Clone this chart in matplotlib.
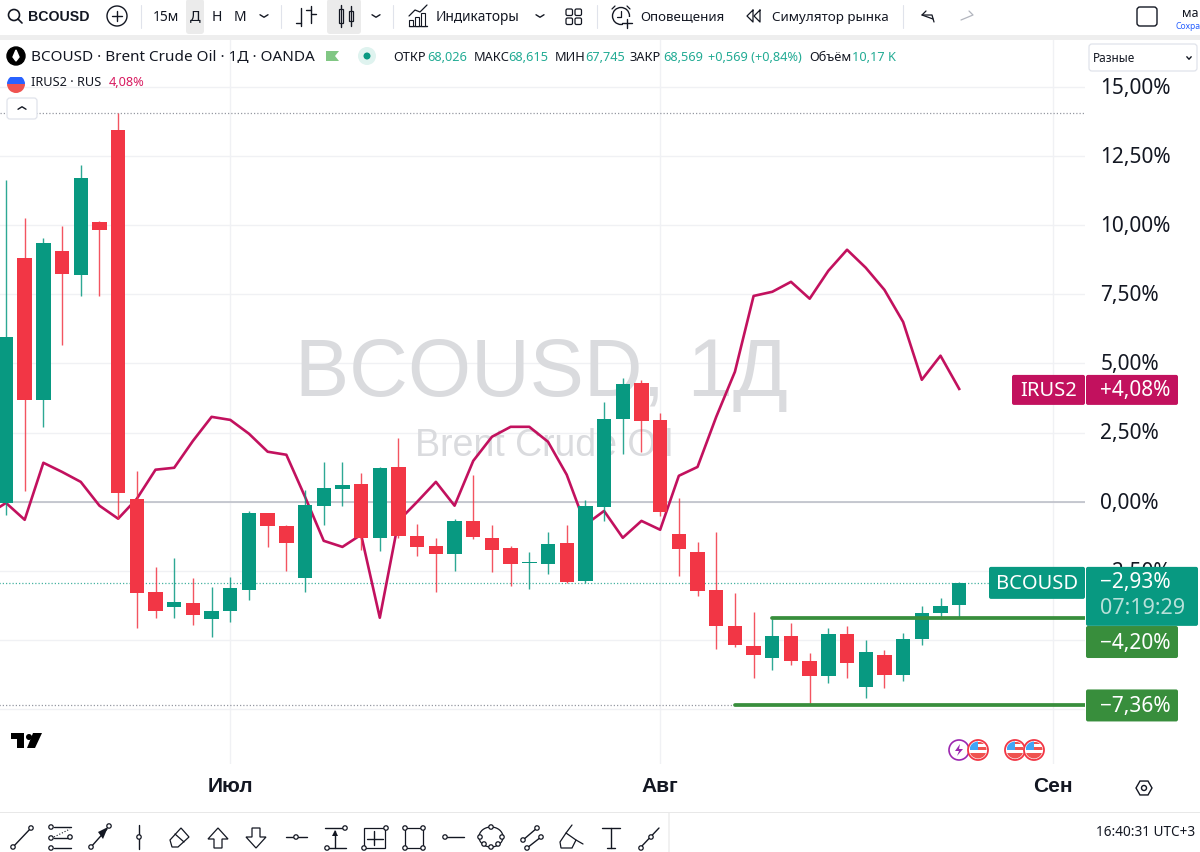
import matplotlib
matplotlib.use("Agg")
import matplotlib.pyplot as plt
from matplotlib.patches import Rectangle, Circle, FancyBboxPatch, Polygon, Wedge, Ellipse
from matplotlib.transforms import ScaledTranslation

plt.rcParams['font.family'] = ['Noto Sans', 'DejaVu Sans']

# ---------- data (percent change) ----------
opens = [-0.04, 8.80, 3.69, 9.07, 8.20, 10.12, 13.44, 0.11, -3.27, -3.81, -3.65, -4.23, -3.94,
         -3.18, -0.42, -0.87, -2.77, -0.14, 0.47, 0.65, -1.32, 1.26, -1.23, -1.59, -1.88, -0.69,
         -1.30, -1.66, -2.22, -2.24, -1.48, -2.85, -0.18, 3.00, 4.30, 2.96, -1.16, -1.81, -3.18,
         -4.48, -5.20, -5.64, -4.84, -5.75, -6.29, -4.77, -6.69, -5.53, -6.25, -4.95, -4.01, -3.72]
closes = [5.96, 3.69, 9.36, 8.24, 11.71, 9.83, 0.33, -3.29, -3.94, -3.61, -4.08, -3.94, -3.11,
          -0.42, -0.87, -1.48, -0.11, 0.51, 0.61, -1.30, 1.23, -1.23, -1.63, -1.88, -0.69, -1.26,
          -1.73, -2.24, -2.20, -1.52, -2.89, -0.14, 3.00, 4.26, 2.93, -0.36, -1.70, -3.22, -4.48,
          -5.17, -5.53, -4.84, -5.75, -6.29, -4.77, -5.82, -5.42, -6.25, -4.95, -4.01, -3.76, -2.93]
highs = [11.64, 10.26, 9.54, 9.97, 12.18, 10.16, 14.06, 1.12, -2.37, -2.02, -2.75, -3.07, -2.71,
         -0.33, -0.40, -0.83, 0.43, 1.45, 1.45, 1.05, 1.26, 2.31, -0.80, -1.30, -0.61, 0.98,
         -0.83, -1.59, -1.81, -1.08, -0.83, 0.07, 3.61, 4.48, 4.41, 3.22, 0.14, -1.45, -1.08,
         -3.29, -3.98, -4.23, -4.37, -5.46, -4.55, -4.48, -4.99, -5.35, -4.73, -3.76, -3.47, -2.89]
lows = [-0.47, 0.40, 2.71, 5.67, 7.44, 7.44, -0.61, -4.55, -4.19, -4.21, -4.45, -4.88, -4.34,
        -3.54, -1.63, -2.49, -3.25, -0.83, -0.14, -1.73, -1.77, -1.30, -1.95, -3.25, -2.49, -1.34,
        -2.53, -3.04, -3.14, -2.60, -2.93, -2.93, -0.69, 1.73, 1.81, -0.51, -2.67, -3.40, -5.31,
        -5.24, -6.36, -6.07, -5.89, -7.34, -6.54, -6.36, -7.08, -6.72, -6.47, -5.17, -4.23, -4.16]
irus_x = list(range(-1, 52))
irus = [-0.47, -0.04, -0.65, 1.41, 1.08, 0.72, -0.14, -0.61, 0.11, 1.16, 1.23, 2.20, 3.07, 2.96,
        2.46, 1.81, 1.70, 0.18, -1.41, -1.63, -1.19, -4.19, -0.69, 0.00, 0.72, -0.14, 1.48, 2.35,
        2.71, 2.71, 2.17, 0.98, -0.83, -0.33, -1.30, -0.69, -1.01, 0.94, 1.26, 3.07, 4.70, 7.44,
        7.59, 7.95, 7.34, 8.35, 9.11, 8.46, 7.66, 6.50, 4.41, 5.28, 4.08]
y_ticks = [15, 12.5, 10, 7.5, 5, 2.5, 0, -2.5, -5, -7.5]
y_labels = ['15,00%', '12,50%', '10,00%', '7,50%', '5,00%', '2,50%', '0,00%', '−2,50%', '', '']
month_pos = [12, 35, 56]
month_labels = ['Июл', 'Авг', 'Сен']
last_close = -2.93
last_irus = 4.08
level_a, level_b = -4.20, -7.36
period_high, period_low = 14.06, -7.36

GREEN, RED, PINK, LVL = '#089981', '#F23645', '#C2115E', '#388E3C'
INK = '#131722'
W, H = 1200, 853
PX_ZERO, PX_PER = 502.8, 27.67
BAR0, BARW = 6.0, 18.69
TOP, BOTTOM, RIGHT = 40, 765, 1085


def yp(v):
    return PX_ZERO - v * PX_PER


fig = plt.figure(figsize=(W / 100, H / 100), dpi=100, facecolor='white')
ax = fig.add_axes([0, 1 - BOTTOM / H, RIGHT / W, (BOTTOM - TOP) / H], zorder=1)
ax.set_xlim(-BAR0 / BARW, (RIGHT - BAR0) / BARW)
ax.set_ylim((PX_ZERO - BOTTOM) / PX_PER, (PX_ZERO - TOP) / PX_PER)
for s in ax.spines.values():
    s.set_visible(False)

ax.set_yticks(y_ticks)
ax.set_yticklabels(y_labels)
ax.yaxis.tick_right()
ax.tick_params(axis='y', length=0, pad=11, labelsize=15, labelcolor=INK)
up = ScaledTranslation(0, 1.6 / 72, fig.dpi_scale_trans)
for lab in ax.get_yticklabels():
    lab.set_transform(lab.get_transform() + up)
ax.set_xticks(month_pos)
ax.set_xticklabels(month_labels, fontweight='bold', fontsize=15, color=INK, family=['Liberation Sans'])
ax.tick_params(axis='x', length=0, pad=9)
ax.grid(True, color='#f0f1f4', lw=1, zorder=0)
ax.set_axisbelow(True)
ax.axhline(0, color='#b8bbc4', lw=1.1, zorder=1)

ax.text(541 / RIGHT, 1 - (375 - TOP) / (BOTTOM - TOP), 'BCOUSD, 1Д', transform=ax.transAxes,
        fontsize=58.5, family=['Liberation Sans'], color='#dadbde', ha='center', va='center', zorder=1.2)
ax.text(415 / RIGHT, 1 - (446 - TOP) / (BOTTOM - TOP), 'Brent Crude Oil', transform=ax.transAxes,
        fontsize=27, family=['Liberation Sans'], color='#dadbde', ha='left', va='center', zorder=1.2)

dot = (0, (1, 1.6))
ax.axhline(period_high, color='#9598a1', lw=0.9, ls=dot, zorder=1.5)
ax.plot([-1, 39], [period_low, period_low], color='#9598a1', lw=0.9, ls=dot, zorder=1.5)
ax.plot([-1, 53], [last_close, last_close], color=GREEN, lw=0.9, ls=dot, alpha=0.75, zorder=1.5)

ax.plot(irus_x, irus, color=PINK, lw=1.9, zorder=2, solid_joinstyle='round')

for i, (o, h, l, c) in enumerate(zip(opens, highs, lows, closes)):
    col = GREEN if c >= o else RED
    ax.vlines(i, l, h, color=col, lw=1.0, alpha=0.85, zorder=3)
    lo, hi = min(o, c), max(o, c)
    ax.bar(i, max(hi - lo, 0.04), bottom=lo, width=0.77, color=col, linewidth=0, zorder=4)

ax.plot([41, 58], [level_a, level_a], color=LVL, lw=2.7, solid_capstyle='round', zorder=5)
ax.plot([39, 58], [level_b, level_b], color=LVL, lw=2.7, solid_capstyle='round', zorder=5)

# ---------- overlay: terminal chrome in pixel coordinates ----------
ov = fig.add_axes([0, 0, 1, 1], zorder=5)
ov.set_xlim(0, W)
ov.set_ylim(H, 0)
ov.axis('off')
ov.patch.set_alpha(0)


def rect(x0, y0, x1, y1, fc, ec='none', lw=0, r=0, z=2):
    if r:
        p = FancyBboxPatch((x0 + r, y0 + r), x1 - x0 - 2 * r, y1 - y0 - 2 * r,
                           boxstyle=f'round,pad={r},rounding_size={r}', fc=fc, ec=ec, lw=lw, zorder=z)
    else:
        p = Rectangle((x0, y0), x1 - x0, y1 - y0, fc=fc, ec=ec, lw=lw, zorder=z)
    ov.add_patch(p)


def line(xs, ys, c=INK, lw=1.0, z=3, **kw):
    ov.plot(xs, ys, color=c, lw=lw, zorder=z, solid_capstyle='round', **kw)


def txt(x, y, s, size=10, c=INK, ha='left', weight='normal', z=4, **kw):
    ov.text(x, y, s, fontsize=size, color=c, ha=ha, va='center', fontweight=weight, zorder=z, **kw)


def circ(x, y, r, fc='none', ec=INK, lw=1.0, z=3):
    ov.add_patch(Circle((x, y), r, fc=fc, ec=ec, lw=lw, zorder=z))


def chevron(x, y, c=INK, s=4, up=False):
    d = -2.5 if up else 2.5
    line([x - s, x, x + s], [y - d / 2, y + d / 2, y - d / 2], c=c, lw=1.0)


# top toolbar
rect(0, 0, W, 36, 'white')
rect(0, 36, W, 41, '#eeeeee')
rect(186, 0, 204, 35, '#ebebeb', r=3)
rect(327, 0, 361, 35, '#ebebeb', r=3)
circ(14, 16, 5.5, lw=1.2)
line([18, 22], [20, 24], lw=1.2)
txt(28, 17, 'BCOUSD', 10.2, weight='bold', family=['Liberation Sans'])
circ(117, 17, 10)
line([112, 122], [17, 17])
line([117, 117], [12, 22])
for sx in (141, 281, 393, 597, 903):
    line([sx, sx], [6, 29], c='#e0e3eb', lw=0.8)
txt(153, 17, '15м', 10)
txt(195, 17, 'Д', 10.5, ha='center')
txt(217, 17, 'Н', 10, ha='center')
txt(240, 17, 'М', 10, ha='center')
chevron(264, 17)
line([301, 301], [9, 27])
line([296, 301], [24, 24])
line([311, 311], [7, 24])
line([311, 316], [15, 15])
line([306, 311], [11, 11])
rect(339, 10, 343, 24, 'white', ec=INK, lw=0.9, z=3)
line([341, 341], [6, 28])
rect(349, 12, 353, 22, 'white', ec=INK, lw=0.9, z=3)
line([351, 351], [7, 27])
chevron(376, 17)
line([409, 427], [27, 27])
for bx, by in ((411, 21), (417, 18), (423, 14)):
    rect(bx - 2, by, bx + 2, 27, 'white', ec=INK, lw=0.8, z=3)
line([409, 415, 420, 427], [17, 11, 13, 6], lw=0.9)
txt(436, 17, 'Индикаторы', 9.9)
chevron(540, 17)
for qx, qy in ((566, 10), (575, 10), (566, 19), (575, 19)):
    rect(qx, qy, qx + 6.5, qy + 6.5, 'white', ec=INK, lw=0.9, r=1.5, z=3)
circ(621, 17, 8.5)
line([621, 621, 617], [12, 18, 18], lw=0.9)
line([612, 615], [10, 7], lw=0.9)
line([630, 627], [10, 7], lw=0.9)
rect(623, 18, 632, 29, 'white', z=3)
line([627, 627], [20, 29], z=4)
line([622, 632], [24, 24], z=4)
txt(640, 17, 'Оповещения', 9.6)
line([753, 747, 753, 753], [11, 17, 23, 11], lw=0.9)
line([760, 754, 760, 760], [11, 17, 23, 11], lw=0.9)
txt(772, 17, 'Симулятор рынка', 9.7)
line([933, 922, 926], [20, 16, 12], lw=0.9)
line([922, 932, 934], [16, 16, 23], lw=0.9)
line([961, 973, 969], [21, 16, 12], c='#b2b5be', lw=0.9)
rect(1137, 8, 1157, 27, 'white', ec=INK, lw=1.0, r=3, z=3)
txt(1182, 13, 'ма', 9)
txt(1175, 26, 'Сохра', 6.2, c='#2962FF')

# legend rows
circ(16, 57, 9, fc='black', ec='black')
ov.add_patch(Polygon([(16, 51), (13, 58), (16, 62), (19, 58)], fc='white', ec='white', zorder=4))
txt(31, 57, 'BCOUSD · Brent Crude Oil · 1Д · OANDA', 11)
ov.add_patch(Polygon([(326, 52), (339, 52), (335, 57), (339, 62), (326, 62)], fc='#81C784', zorder=3))
circ(367, 57, 9, fc='#dff3ef', ec='none', lw=0)
circ(367, 57, 3.5, fc=GREEN, ec='none', lw=0)
LG = '#22AB94'
for x, s, c in ((393, 'ОТКР', INK), (427, '68,026', LG), (474, 'МАКС', INK), (508, '68,615', LG),
                (555, 'МИН', INK), (585, '67,745', LG), (629, 'ЗАКР', INK), (663, '68,569', LG),
                (708, '+0,569 (+0,84%)', LG), (809, 'Объём', INK), (852, '10,17 K', LG)):
    txt(x, 57, s, 9.2, c=c)
ov.add_patch(Wedge((16, 85), 9, 180, 360, fc='#2962FF', zorder=3))
ov.add_patch(Wedge((16, 85), 9, 0, 180, fc='#EF5350', zorder=3))
rect(7, 72, 25, 77.5, 'white', z=3.5)
txt(31, 82, 'IRUS2 · RUS', 9.2)
txt(109, 82, '4,08%', 9.2, c='#D81B60')
rect(7, 99, 37, 120, 'white', ec='#e0e3eb', lw=0.9, r=3, z=3)
chevron(22, 109, s=4, up=True)
rect(1089, 45, 1197, 72, 'white', ec='#e0e3eb', lw=0.9, r=3, z=3)
txt(1093, 58.5, 'Разные', 8.5)
chevron(1189, 59, s=2.2)

# price tags
py = yp(last_close)
rect(989, py - 16, 1085, py + 16, GREEN, r=2)
txt(1037, py, 'BCOUSD', 14.5, c='white', ha='center')
rect(1086, py - 16, 1198, py + 43, GREEN, r=2)
txt(1100, py - 1, '−2,93%', 15, c='white')
txt(1100, py + 25, '07:19:29', 15.5, c='#b7e0d9')
for v, s in ((level_a, '−4,20%'), (level_b, '−7,36%')):
    p = yp(v) + (24 if v == level_a else 0)
    rect(1086, p - 16, 1178, p + 16, LVL, r=2)
    txt(1100, p, s, 15, c='white')
py = yp(last_irus) + 1
rect(1012, py - 15, 1085, py + 15, PINK, r=2)
txt(1049, py, 'IRUS2', 14.5, c='white', ha='center')
rect(1086, py - 15, 1178, py + 15, PINK, r=2)
txt(1100, py, '+4,08%', 15, c='white')

# TradingView mark
ov.add_patch(Polygon([(11, 734), (24, 734), (24, 749), (17, 749), (17, 740), (11, 740)], fc='black', zorder=3))
circ(29, 738, 3, fc='black', ec='black', lw=0)
ov.add_patch(Polygon([(33, 734), (42, 734), (35, 749), (27, 749)], fc='black', zorder=3))

# event icons
circ(959, 751, 10, fc='white', ec='#9C27B0', lw=1.2, z=3)
ov.add_patch(Polygon([(960, 745), (955, 752), (959, 752), (957, 757), (963, 750), (959, 750)],
                     fc='#9C27B0', zorder=3.1))
for k, fx in enumerate((978, 1015, 1034)):
    z = 3.2 + k * 0.1
    ov.add_patch(Circle((fx, 751), 10, fc='white', ec='none', zorder=z))
    clipc = Circle((fx, 751), 8.5, transform=ov.transData)
    for rx0, ry0, rw, rh, col in ((fx - 8.5, 754, 17, 6, '#EF5350'), (fx, 748, 9, 3, '#EF5350'),
                                  (fx - 8.5, 742, 8.5, 9, '#42A5F5'), (fx, 743, 9, 2, '#EF5350')):
        rp = Rectangle((rx0, ry0), rw, rh, fc=col, ec='none', zorder=z + 0.01)
        ov.add_patch(rp)
        rp.set_clip_path(clipc)
    ov.add_patch(Circle((fx, 751), 10, fc='none', ec='#F23645', lw=1.3, zorder=z + 0.05))

# lower band
rect(0, 813, W, 814, '#e8e8e8')
rect(668, 814, 670, H, '#f1f1f1')
hx = [1144 + 8 * a for a in (-1, -0.5, 0.5, 1, 0.5, -0.5)]
hy = [789 + 8 * b for b in (0, -0.87, -0.87, 0, 0.87, 0.87)]
ov.add_patch(Polygon(list(zip(hx, hy)), fc='none', ec=INK, lw=1.0, zorder=3))
circ(1144, 789, 2.5)
txt(1195, 833, '16:40:31 UTC+3', 9.8, ha='right')


# bottom tool icons
def node(x, y):
    circ(x, y, 2.2, fc='white', lw=0.9, z=4)


line([13, 31], [848, 829]); node(13, 848); node(31, 829)
for ly in (828, 839, 849):
    line([54, 71], [ly, ly]); node(51, ly)
line([54, 70], [838, 830], lw=0.8, ls=':'); node(70, 838)
line([91, 107], [848, 830]); node(91, 848); node(109, 827)
ov.add_patch(Polygon([(108, 828), (98, 833), (103, 840)], fc=INK, zorder=3))
line([139, 139], [826, 850]); node(139, 838)
ov.add_patch(Polygon([(170, 841), (181, 829), (189, 838), (178, 848), (172, 848)], fc='white', ec=INK, lw=0.9, zorder=3))
line([175, 184], [835, 843], lw=0.9)
ov.add_patch(Polygon([(218, 829), (228, 840), (222, 840), (222, 849), (214, 849), (214, 840), (208, 840)], fc='white', ec=INK, lw=0.9, zorder=3))
ov.add_patch(Polygon([(256, 849), (266, 838), (260, 838), (260, 829), (252, 829), (252, 838), (246, 838)], fc='white', ec=INK, lw=0.9, zorder=3))
line([286, 307], [838, 838]); node(296, 838)
line([325, 343], [829, 829]); node(345, 829)
line([325, 346], [849, 849]); node(327, 849)
line([335, 335], [832, 849])
ov.add_patch(Polygon([(335, 831), (332, 837), (338, 837)], fc=INK, zorder=3))
rect(364, 829, 385, 849, 'white', ec=INK, lw=0.9, z=3)
line([374, 374], [832, 846], z=3.5)
line([367, 383], [840, 840], z=3.5)
node(386, 829); node(364, 849)
rect(405, 829, 423, 849, 'none', ec=INK, lw=0.9, z=3)
for nx in (405, 423):
    for ny in (829, 849):
        node(nx, ny)
line([447, 464], [838, 838]); node(445, 838)
ov.add_patch(Ellipse((491, 838), 24, 20, fc='none', ec=INK, lw=0.9, zorder=3))
for nx, ny in ((480, 838), (502, 838), (491, 828), (491, 848), (484, 845), (498, 845)):
    node(nx, ny)
line([523, 537], [841, 829]); node(523, 841); node(537, 829)
line([527, 541], [849, 838]); node(527, 849); node(541, 838)
ov.add_patch(Polygon([(560, 843), (566, 834), (576, 841), (572, 849), (561, 849)], fc='white', ec=INK, lw=0.9, zorder=3))
line([566, 572], [834, 826], lw=0.9)
line([576, 583], [841, 845], lw=0.9)
line([611, 611], [829, 849], lw=1.0)
line([602, 620], [829, 829], lw=1.0)
line([607, 615], [849, 849], lw=1.0)
line([641, 659], [848, 829]); node(641, 849); node(651, 838)

fig.savefig('out.png', dpi=100, facecolor='white')
